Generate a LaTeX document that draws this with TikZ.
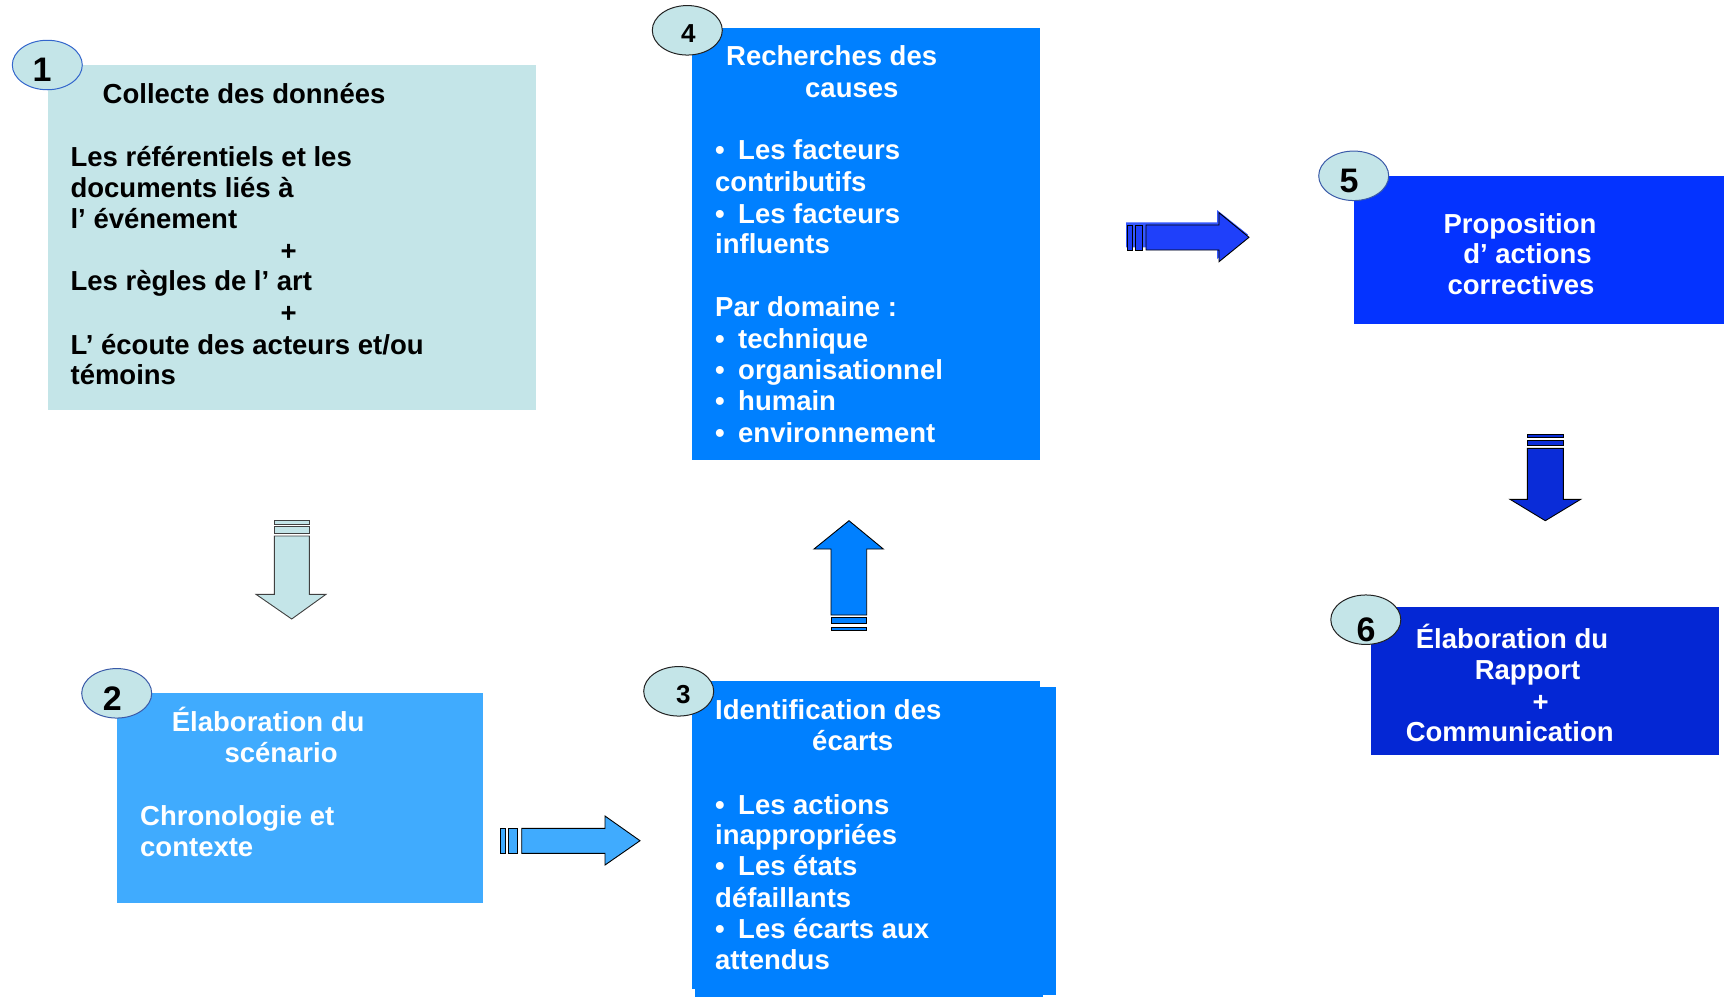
\documentclass[tikz,border=0pt]{standalone}
\usepackage{fontspec}
\setmainfont{Liberation Sans}
\definecolor{cLight}{HTML}{C4E5E8}
\definecolor{cMid}{HTML}{40ABFE}
\definecolor{cBlue}{HTML}{0080FF}
\definecolor{cDeep}{HTML}{0433FF}
\definecolor{cDark}{HTML}{0427D4}
\definecolor{cArrF}{HTML}{1F40FA}
\definecolor{cArrS}{HTML}{3558FF}
\definecolor{cArrD}{HTML}{0A2CD8}
\definecolor{cRingA}{HTML}{3366CC}
\definecolor{cRingB}{HTML}{3A5AA8}
\definecolor{cRingC}{HTML}{222222}
\begin{document}
\begin{tikzpicture}[x=1pt,y=-1pt,
  boxshape/.style={rectangle, inner sep=0pt, anchor=north west, draw=none},
  txt/.style={inner sep=0pt, anchor=base west, font=\fontsize{27.5}{31}\selectfont\bfseries},
  ctxt/.style={inner sep=0pt, anchor=base, font=\fontsize{27.5}{31}\selectfont\bfseries},
  wtxt/.style={txt, text=white},
  wctxt/.style={ctxt, text=white},
  badge/.style={ellipse, inner sep=0pt, minimum width=70pt, minimum height=49.5pt, fill=cLight, line width=1pt},
  numtxt/.style={inner sep=0pt, font=\fontsize{34}{34}\selectfont\bfseries},
  smallnum/.style={inner sep=0pt, font=\fontsize{26}{26}\selectfont\bfseries},
  blockarrow/.style={line width=0.9pt, draw=black, line join=miter},
]
\usetikzlibrary{shapes.geometric}
\useasboundingbox (0,0) rectangle (1724,997);

% ---------- boxes ----------
\node[boxshape, fill=cLight, minimum width=487.8pt, minimum height=344.3pt] (b1) at (47.9,65) {};
\node[boxshape, fill=cMid, minimum width=365.7pt, minimum height=210.3pt] (b2) at (117,692.7) {};
\node[boxshape, fill=cBlue, minimum width=348pt, minimum height=307.6pt] (b3) at (692,680.7) {};
\node[boxshape, fill=cBlue, minimum width=361pt, minimum height=307.6pt] (b3b) at (695,686.7) {};
\node[boxshape, fill=cBlue, minimum width=348pt, minimum height=10pt] (b3c) at (695,986.7) {};
\node[boxshape, fill=cBlue, minimum width=348pt, minimum height=431.6pt] (b4) at (692,27.7) {};
\node[boxshape, fill=cDeep, minimum width=370pt, minimum height=147.3pt] (b5) at (1354,176) {};
\node[boxshape, fill=cDark, minimum width=348pt, minimum height=147.6pt] (b6) at (1371,606.7) {};

% ---------- block arrows ----------
% 1 -> 2
\draw[blockarrow, fill=cLight, draw=black!75] (274.3,520.7) rectangle (309.3,524);
\draw[blockarrow, fill=cLight, draw=black!75] (274.3,526.5) rectangle (309.3,533.3);
\draw[blockarrow, fill=cLight, draw=black!75] (274.3,536) -- (309.3,536) -- (309.3,594.3) -- (326,594.3) -- (291.7,619) -- (256,594.3) -- (274.3,594.3) -- cycle;
% 2 -> 3
\draw[blockarrow, fill=cMid] (500.7,828.3) rectangle (505.7,853.3);
\draw[blockarrow, fill=cMid] (508.3,828.3) rectangle (517.7,853.3);
\draw[blockarrow, fill=cMid] (521.7,828.3) -- (605,828.3) -- (605,816) -- (640,840.7) -- (605,865) -- (605,853.3) -- (521.7,853.3) -- cycle;
% 3 -> 4
\draw[blockarrow, fill=cBlue] (831,615) -- (831,549) -- (814,549) -- (849,520.7) -- (883.3,549) -- (866.7,549) -- (866.7,615) -- cycle;
\draw[blockarrow, fill=cBlue] (831,617.3) rectangle (866.7,623.3);
\draw[blockarrow, fill=cBlue] (831,627.3) rectangle (866.7,630.7);
% 4 -> 5 (with offset shade)
\fill[cArrS] (1126,222.3) -- (1217,222.3) -- (1217,210) -- (1248,234.6) -- (1217,259) -- (1217,247.3) -- (1126,247.3) -- cycle;
\draw[blockarrow, fill=cArrF] (1127.3,225) rectangle (1132.3,250);
\draw[blockarrow, fill=cArrF] (1135,225) rectangle (1142.7,250);
\draw[blockarrow, fill=cArrF] (1146,225) -- (1219,225) -- (1219,212.7) -- (1249,237.3) -- (1219,261.7) -- (1219,250) -- (1146,250) -- cycle;
% 5 -> 6
\draw[blockarrow, fill=cArrD] (1527.3,434) rectangle (1563.3,437.3);
\draw[blockarrow, fill=cArrD] (1527.3,440) rectangle (1563.3,445.7);
\draw[blockarrow, fill=cArrD] (1527.3,448.3) -- (1563.3,448.3) -- (1563.3,499.3) -- (1580.7,499.3) -- (1545.3,520.7) -- (1510,499.3) -- (1527.3,499.3) -- cycle;

% ---------- badges ----------
\node[badge, draw=cRingA] (n1) at (47.3,65) {};
\node[numtxt] (d1) at (42,70) {1};
\node[badge, draw=cRingB] (n2) at (116.7,693.3) {};
\node[numtxt] (d2) at (112.3,698.5) {2};
\node[badge, draw=cRingC] (n3) at (678.7,691.3) {};
\node[smallnum] (d3) at (683.3,695) {3};
\node[badge, draw=cRingC] (n4) at (687.3,30.3) {};
\node[smallnum] (d4) at (688.3,33.5) {4};
\node[badge, draw=cRingB] (n5) at (1353.7,175.8) {};
\node[numtxt] (d5) at (1349,180.5) {5};
\node[badge, draw=cRingC] (n6) at (1365.8,619.7) {};
\node[numtxt] (d6) at (1366,630) {6};

\begin{scope}[yshift=-1.5pt]
% ---------- box 1 text ----------
\node[txt] (t1a) at (102.5,101.7) {Collecte des données};
\node[txt] (t1b) at (70.4,165) {Les référentiels et les};
\node[txt] (t1c) at (70.4,196) {documents liés à};
\node[txt] (t1d) at (70.4,227.3) {l’ événement};
\node[ctxt] (t1e) at (288.6,258.5) {+};
\node[txt] (t1f) at (70.4,289.3) {Les règles de l’ art};
\node[ctxt] (t1g) at (288.6,320.5) {+};
\node[txt] (t1h) at (70.4,352.7) {L’ écoute des acteurs et/ou};
\node[txt] (t1i) at (70.4,382.7) {témoins};

% ---------- box 2 text ----------
\node[wtxt] (t2a) at (171.7,730) {Élaboration du};
\node[wtxt] (t2b) at (224.3,760.7) {scénario};
\node[wtxt] (t2c) at (140,824.3) {Chronologie et};
\node[wtxt] (t2d) at (140,855) {contexte};

% ---------- box 3 text ----------
\node[wtxt] (t3a) at (715,718.3) {Identification des};
\node[wtxt] (t3b) at (812,749.3) {écarts};
\node[wtxt] (t3c0) at (715,812.7) {•};
\node[wtxt] (t3c) at (738,812.7) {Les actions};
\node[wtxt] (t3d) at (715,843.3) {inappropriées};
\node[wtxt] (t3e0) at (715,874.3) {•};
\node[wtxt] (t3e) at (738,874.3) {Les états};
\node[wtxt] (t3f) at (715,906) {défaillants};
\node[wtxt] (t3g0) at (715,936.7) {•};
\node[wtxt] (t3g) at (738,936.7) {Les écarts aux};
\node[wtxt] (t3h) at (715,968.3) {attendus};

% ---------- box 4 text ----------
\node[wtxt] (t4a) at (726,64.3) {Recherches des};
\node[wtxt] (t4b) at (805,95.7) {causes};
\node[wtxt] (t4c0) at (715,158.3) {•};
\node[wtxt] (t4c) at (738,158.3) {Les facteurs};
\node[wtxt] (t4d) at (715,190) {contributifs};
\node[wtxt] (t4e0) at (715,221.7) {•};
\node[wtxt] (t4e) at (738,221.7) {Les facteurs};
\node[wtxt] (t4f) at (715,252.3) {influents};
\node[wtxt] (t4g) at (715,315) {Par domaine :};
\node[wtxt] (t4h0) at (715,346.7) {•};
\node[wtxt] (t4h) at (738,346.7) {technique};
\node[wtxt] (t4i0) at (715,378.3) {•};
\node[wtxt] (t4i) at (738,378.3) {organisationnel};
\node[wtxt] (t4j0) at (715,409.3) {•};
\node[wtxt] (t4j) at (738,409.3) {humain};
\node[wtxt] (t4k0) at (715,440.7) {•};
\node[wtxt] (t4k) at (738,440.7) {environnement};

% ---------- box 5 text ----------
\node[wctxt] (t5a) at (1520,231.7) {Proposition};
\node[wctxt] (t5b) at (1527.5,262.3) {d’ actions};
\node[wctxt] (t5c) at (1521,293.3) {correctives};

% ---------- box 6 text ----------
\node[wctxt] (t6a) at (1512,647.3) {Élaboration du};
\node[wctxt] (t6b) at (1527.5,678.3) {Rapport};
\node[wctxt] (t6c) at (1540.7,709.5) {+};
\node[wctxt] (t6d) at (1509.7,740) {Communication};
\end{scope}
\end{tikzpicture}
\end{document}
